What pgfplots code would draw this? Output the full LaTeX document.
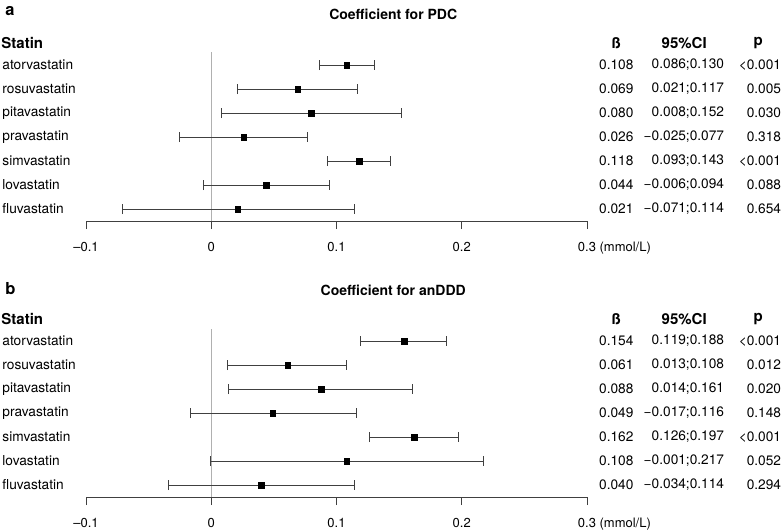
\documentclass[border=0pt]{standalone}
\usepackage{pgfplots}
\pgfplotsset{compat=1.18}
\usepackage{pgfplotstable}
\usepackage{fontspec}
\setmainfont{TeX Gyre Heros}
\newcommand{\fs}{\fontsize{13.7bp}{16bp}\selectfont}
\newcommand{\ft}{\fontsize{13bp}{15bp}\selectfont}
\newcommand{\fh}{\fontsize{15bp}{18bp}\selectfont\bfseries}
\newcommand{\fti}{\fontsize{14bp}{17bp}\selectfont\bfseries}
\newcommand{\fp}{\fontsize{16.5bp}{20bp}\selectfont\bfseries}
\protected\def\sc{;}
\definecolor{barc}{HTML}{404040}
\definecolor{zeroc}{HTML}{B0B0B0}

\pgfplotstableread{
row name b lo hi ci p
1 atorvastatin 0.108 0.086 0.130 0.086\sc0.130 <0.001
2 rosuvastatin 0.069 0.021 0.117 0.021\sc0.117 0.005
3 pitavastatin 0.080 0.008 0.152 0.008\sc0.152 0.030
4 pravastatin 0.026 -0.025 0.077 −0.025\sc0.077 0.318
5 simvastatin 0.118 0.093 0.143 0.093\sc0.143 <0.001
6 lovastatin 0.044 -0.006 0.094 −0.006\sc0.094 0.088
7 fluvastatin 0.021 -0.071 0.114 −0.071\sc0.114 0.654
}\dataA

\pgfplotstableread{
row name b lo hi ci p
1 atorvastatin 0.154 0.119 0.188 0.119\sc0.188 <0.001
2 rosuvastatin 0.061 0.013 0.108 0.013\sc0.108 0.012
3 pitavastatin 0.088 0.014 0.161 0.014\sc0.161 0.020
4 pravastatin 0.049 -0.017 0.116 −0.017\sc0.116 0.148
5 simvastatin 0.162 0.126 0.197 0.126\sc0.197 <0.001
6 lovastatin 0.108 -0.001 0.217 −0.001\sc0.217 0.052
7 fluvastatin 0.040 -0.034 0.114 −0.034\sc0.114 0.294
}\dataB

\pgfplotsset{
  forest/.style={
    scale only axis, width=501bp, height=180bp,
    xmin=-0.1, xmax=0.3, ymin=-7.5, ymax=0,
    axis x line*=bottom, axis y line=none,
    clip=false,
    xtick={-0.1,0,0.1,0.2,0.3},
    xticklabels={–0.1,0,0.1,0.2,0.3\rlap{ (mmol/L)}},
    tick align=outside, major tick length=8bp,
    every tick/.style={black!75, line width=0.8bp},
    axis line style={black!75, line width=0.8bp},
    xticklabel style={font=\ft, anchor=base, yshift=-22.5bp},
    /pgf/number format/assume math mode=true,
  },
  txt/.style={draw=none, mark=none, nodes near coords={\pgfplotspointmeta},
    point meta=explicit symbolic,
    every node near coord/.style={anchor=#1, inner sep=0pt, font=\fs, text=black}},
  ciplot/.style={only marks, mark=square*, mark size=2.8bp,
    mark options={black, fill=black},
    error bars/.cd, x dir=both, x explicit,
    error bar style={barc, line width=0.9bp},
    error mark=|,
    error mark options={barc, line width=0.9bp, mark size=5bp}},
}

\begin{document}
\begin{tikzpicture}
\useasboundingbox (-86bp,-310bp) rectangle (698bp,221bp);

% ---------- panel a ----------
\begin{axis}[forest, at={(0,0)}, anchor=south west]
\addplot[zeroc, line width=0.8bp] coordinates {(0,-0.46) (0,-7.5)};
\addplot[ciplot] table[x=b, y expr=-\thisrow{row},
  x error plus expr=\thisrow{hi}-\thisrow{b},
  x error minus expr=\thisrow{b}-\thisrow{lo}] {\dataA};
\addplot[txt=west] table[x expr=-0.1669, y expr=-\thisrow{row}, meta=name] {\dataA};
\addplot[txt=center] table[x expr=0.3234, y expr=-\thisrow{row}, meta=b] {\dataA};
\addplot[txt=east] table[x expr=0.4096, y expr=-\thisrow{row}, meta=ci] {\dataA};
\addplot[txt=east] table[x expr=0.4551, y expr=-\thisrow{row}, meta=p] {\dataA};
\node[anchor=base west, font=\fp, inner sep=0pt] at (axis cs:-0.1645,1.083) {a};
\node[font=\fti, inner sep=0pt] at (axis cs:0.1453,1.125) {Coefficient for PDC};
\node[anchor=west, font=\fh, inner sep=0pt] at (axis cs:-0.1677,-0.083) {Statin};
\node[font=\fh, inner sep=0pt] at (axis cs:0.3234,-0.083) {ß};
\node[font=\fh, inner sep=0pt] at (axis cs:0.3776,-0.083) {95\%CI};
\node[font=\fh, inner sep=0pt] at (axis cs:0.4367,-0.083) {p};
\end{axis}

% ---------- panel b ----------
\begin{axis}[forest, at={(0,-276bp)}, anchor=south west]
\addplot[zeroc, line width=0.8bp] coordinates {(0,-0.5) (0,-7.5)};
\addplot[ciplot] table[x=b, y expr=-\thisrow{row},
  x error plus expr=\thisrow{hi}-\thisrow{b},
  x error minus expr=\thisrow{b}-\thisrow{lo}] {\dataB};
\addplot[txt=west] table[x expr=-0.1669, y expr=-\thisrow{row}, meta=name] {\dataB};
\addplot[txt=center] table[x expr=0.3234, y expr=-\thisrow{row}, meta=b] {\dataB};
\addplot[txt=east] table[x expr=0.4096, y expr=-\thisrow{row}, meta=ci] {\dataB};
\addplot[txt=east] table[x expr=0.4551, y expr=-\thisrow{row}, meta=p] {\dataB};
\node[anchor=base west, font=\fp, inner sep=0pt] at (axis cs:-0.1645,0.958) {b};
\node[font=\fti, inner sep=0pt] at (axis cs:0.1453,1.125) {Coefficient for anDDD};
\node[anchor=west, font=\fh, inner sep=0pt] at (axis cs:-0.1677,-0.083) {Statin};
\node[font=\fh, inner sep=0pt] at (axis cs:0.3234,-0.083) {ß};
\node[font=\fh, inner sep=0pt] at (axis cs:0.3776,-0.083) {95\%CI};
\node[font=\fh, inner sep=0pt] at (axis cs:0.4367,-0.083) {p};
\end{axis}
\end{tikzpicture}
\end{document}
